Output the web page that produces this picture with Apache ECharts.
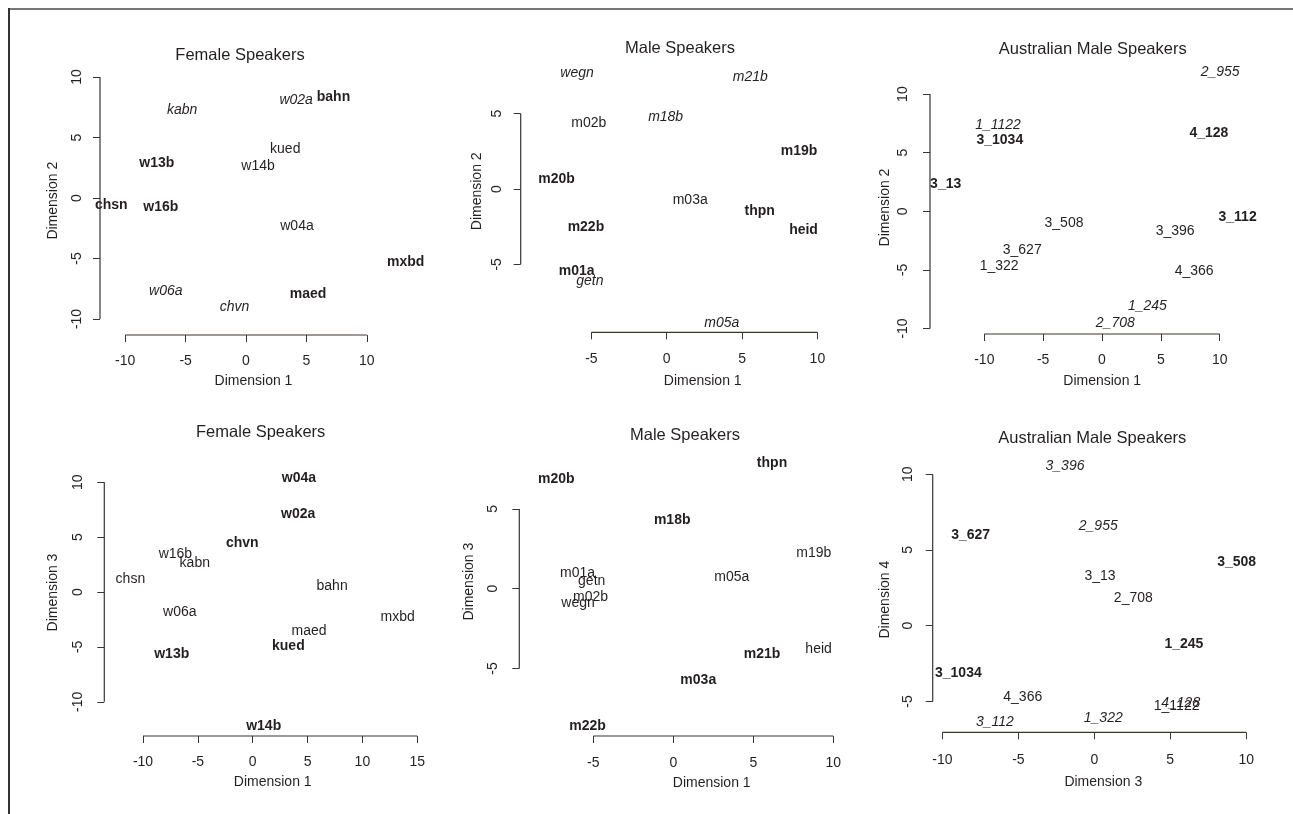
<!DOCTYPE html>
<html><head><meta charset="utf-8">
<script src="https://cdn.jsdelivr.net/npm/echarts@6/dist/echarts.min.js"></script>
<style>html,body{margin:0;padding:0;background:#fff}#c{width:1293px;height:814px}</style>
</head><body><div id="c"></div>
<script>
// ---------------- DATA ----------------
const femaleNames = ['kabn','w02a','bahn','kued','w14b','w13b','chsn','w16b','w04a','mxbd','w06a','maed','chvn'];
const femaleDim1  = [-5.28, 4.15, 7.24, 3.25, 1.00, -7.38, -11.15, -7.05, 4.22, 13.22, -6.64, 5.14, -0.95];
const femaleDim2  = [7.27, 8.10, 8.37, 4.02, 2.64, 2.92, -0.63, -0.77, -2.29, -5.32, -7.66, -7.96, -8.98];
const femaleDim3  = [2.67, 7.13, 0.55, -4.92, -12.20, -5.65, 1.15, 3.43, 10.41, -2.31, -1.82, -3.58, 4.43];
const femaleFont12 = ['i','i','b','n','n','b','b','b','n','b','i','b','i'];
const femaleFont13 = ['n','b','n','b','b','b','n','n','b','n','n','n','b'];

const maleNames = ['wegn','m21b','m02b','m18b','m19b','m20b','m03a','thpn','m22b','heid','m01a','getn','m05a'];
const maleDim1  = [-5.95, 5.55, -5.17, -0.07, 8.78, -7.31, 1.56, 6.17, -5.36, 9.08, -5.98, -5.10, 3.66];
const maleDim2  = [7.72, 7.41, 4.40, 4.80, 2.54, 0.64, -0.73, -1.50, -2.50, -2.72, -5.42, -6.08, -8.91];
const maleDim3  = [-0.92, -4.09, -0.50, 4.30, 2.22, 6.85, -5.76, 7.86, -8.60, -3.78, 1.00, 0.50, 0.75];
const maleFont12 = ['i','i','n','i','b','b','n','b','b','b','b','i','i'];
const maleFont13 = ['n','b','n','b','n','b','b','b','b','n','n','n','n'];

const ausNames = ['2_955','1_1122','3_1034','4_128','3_13','3_112','3_508','3_396','3_627','1_322','4_366','1_245','2_708'];
const ausDim1  = [10.04, -8.83, -8.68, 9.08, -13.28, 11.52, -3.23, 6.21, -6.78, -8.74, 7.83, 3.86, 1.13];
const ausDim2  = [11.91, 7.36, 6.08, 6.65, 2.33, -0.51, -1.02, -1.68, -3.30, -4.67, -5.09, -8.08, -9.56];
const ausDim3  = [0.26, 5.42, -8.95, 5.69, 0.38, -6.54, 9.37, -1.93, -8.14, 0.59, -4.71, 5.90, 2.57];
const ausDim4  = [6.58, -5.30, -3.10, -5.08, 3.28, -6.34, 4.20, 10.54, 5.99, -6.11, -4.69, -1.23, 1.83];
const ausFont12 = ['i','i','b','b','b','b','n','n','n','n','n','i','i'];
const ausFont34 = ['i','n','b','i','n','i','b','i','b','i','n','b','n'];

const ticksM10to10 = [-10, -5, 0, 5, 10];
const ticksM10to15 = [-10, -5, 0, 5, 10, 15];
const ticksM5to10  = [-5, 0, 5, 10];
const ticksM5to5   = [-5, 0, 5];

const titles = ['Female Speakers','Male Speakers','Australian Male Speakers','Female Speakers','Male Speakers','Australian Male Speakers'];

// ---------------- LAYOUT ----------------
const FONT = "'Liberation Sans', Arial, Helvetica, sans-serif";
const TXT = '#231f20';
const AX = '#3a3431';

const panels = [
  {names: femaleNames, x: femaleDim1, y: femaleDim2, font: femaleFont12, xName:'Dimension 1', yName:'Dimension 2', xt: ticksM10to10, yt: ticksM10to10,
   L:{x0:246, sx:12.08, y0:198, sy:12.1, left:100, right:407, top:66.4, bottom:335, tx:240, ty:55, tox:26, toy:23.3, nox:46, noy:47.3}},
  {names: maleNames, x: maleDim1, y: maleDim2, font: maleFont12, xName:'Dimension 1', yName:'Dimension 2', xt: ticksM5to10, yt: ticksM5to5,
   L:{x0:666.7, sx:15.07, y0:189, sy:15.07, left:520.7, right:884.7, top:50.3, bottom:332.3, tx:680, ty:48.3, tox:26.7, toy:24, nox:48.7, noy:44}},
  {names: ausNames, x: ausDim1, y: ausDim2, font: ausFont12, xName:'Dimension 1', yName:'Dimension 2', xt: ticksM10to10, yt: ticksM10to10,
   L:{x0:1102, sx:11.77, y0:211.3, sy:11.72, left:930, right:1274.4, top:81, bottom:334, tx:1092.7, ty:49.3, tox:26, toy:26.7, nox:47, noy:45}},
  {names: femaleNames, x: femaleDim1, y: femaleDim3, font: femaleFont13, xName:'Dimension 1', yName:'Dimension 3', xt: ticksM10to15, yt: ticksM10to10,
   L:{x0:252.7, sx:10.97, y0:592, sy:10.98, left:104.3, right:441.1, top:449, bottom:736, tx:260.7, ty:432.7, tox:26, toy:26, nox:45.7, noy:51.6}},
  {names: maleNames, x: maleDim1, y: maleDim3, font: maleFont13, xName:'Dimension 1', yName:'Dimension 3', xt: ticksM5to10, yt: ticksM5to5,
   L:{x0:673.3, sx:16.0, y0:588.7, sy:15.96, left:519.3, right:904.1, top:427.3, bottom:736, tx:685, ty:435, tox:26.7, toy:26, nox:47.3, noy:50}},
  {names: ausNames, x: ausDim3, y: ausDim4, font: ausFont34, xName:'Dimension 3', yName:'Dimension 4', xt: ticksM10to10, yt: [-5, 0, 5, 10],
   L:{x0:1094.3, sx:15.19, y0:625.7, sy:15.15, left:932.7, right:1273.9, top:467, bottom:732.3, tx:1092.3, ty:438.3, tox:27.7, toy:24.4, nox:49.4, noy:47.7}}
];

const grid = [], xAxis = [], yAxis = [], series = [], graphic = [];
const half = 7;

panels.forEach((p, i) => {
  const L = p.L;
  const xmin = (L.left - L.x0) / L.sx, xmax = (L.right - L.x0) / L.sx;
  const ymin = (L.y0 - L.bottom) / L.sy, ymax = (L.y0 - L.top) / L.sy;
  grid.push({left: L.left, top: L.top, width: L.right - L.left, height: L.bottom - L.top, containLabel: false, outerBoundsMode: 'none'});
  const common = {
    type: 'value', gridIndex: i, nameLocation: 'middle', nameMoveOverlap: false,
    nameTextStyle: {fontFamily: FONT, fontSize: 14, color: TXT},
    axisLine: {show: false, onZero: false}, splitLine: {show: false},
  };
  xAxis.push(Object.assign({}, common, {
    position: 'bottom',
    min: xmin, max: xmax, name: p.xName, nameGap: L.nox - half,
    axisTick: {show: true, customValues: p.xt, length: 7, lineStyle: {color: AX, width: 1}},
    axisLabel: {show: true, customValues: p.xt, margin: L.tox - half, fontFamily: FONT, fontSize: 14, color: TXT, formatter: v => String(v)}
  }));
  yAxis.push(Object.assign({}, common, {
    position: 'left',
    min: ymin, max: ymax, name: p.yName, nameGap: L.noy - half, nameRotate: 90,
    axisTick: {show: true, customValues: p.yt, length: 7, lineStyle: {color: AX, width: 1}},
    axisLabel: {show: true, customValues: p.yt, rotate: 90, margin: L.toy - half, fontFamily: FONT, fontSize: 14, color: TXT, formatter: v => String(v)}
  }));
  // axis lines spanning first..last tick (R style)
  series.push({type: 'line', xAxisIndex: i, yAxisIndex: i, symbol: 'none', clip: false, silent: true,
    lineStyle: {color: AX, width: 1.2}, data: [[p.xt[0], ymin], [p.xt[p.xt.length - 1], ymin]]});
  series.push({type: 'line', xAxisIndex: i, yAxisIndex: i, symbol: 'none', clip: false, silent: true,
    lineStyle: {color: AX, width: 1.2}, data: [[xmin, p.yt[0]], [xmin, p.yt[p.yt.length - 1]]]});
  // text labels
  series.push({
    type: 'scatter', xAxisIndex: i, yAxisIndex: i, symbolSize: 1, clip: false, silent: true,
    itemStyle: {color: 'rgba(255,255,255,0)', opacity: 1},
    label: {show: true, position: 'inside', formatter: '{b}', fontFamily: FONT, fontSize: 14, color: TXT, opacity: 1, textBorderWidth: 0},
    data: p.names.map((n, k) => ({
      name: n, value: [p.x[k], p.y[k]],
      label: {fontWeight: p.font[k] === 'b' ? 'bold' : 'normal', fontStyle: p.font[k] === 'i' ? 'italic' : 'normal'}
    }))
  });
  graphic.push({type: 'text', x: L.tx, y: L.ty, silent: true,
    style: {text: titles[i], fontFamily: FONT, fontSize: 16.5, fill: TXT, textAlign: 'center', textVerticalAlign: 'middle'}});
});

// outer frame lines
graphic.push({type: 'rect', silent: true, shape: {x: 8, y: 8, width: 1285, height: 2}, style: {fill: '#777'}});
graphic.push({type: 'rect', silent: true, shape: {x: 8, y: 8, width: 2, height: 806}, style: {fill: '#333'}});

const chart = echarts.init(document.getElementById('c'), null, {renderer: 'canvas'});
chart.setOption({animation: false, backgroundColor: '#fff', grid, xAxis, yAxis, series, graphic});
</script>
</body></html>
